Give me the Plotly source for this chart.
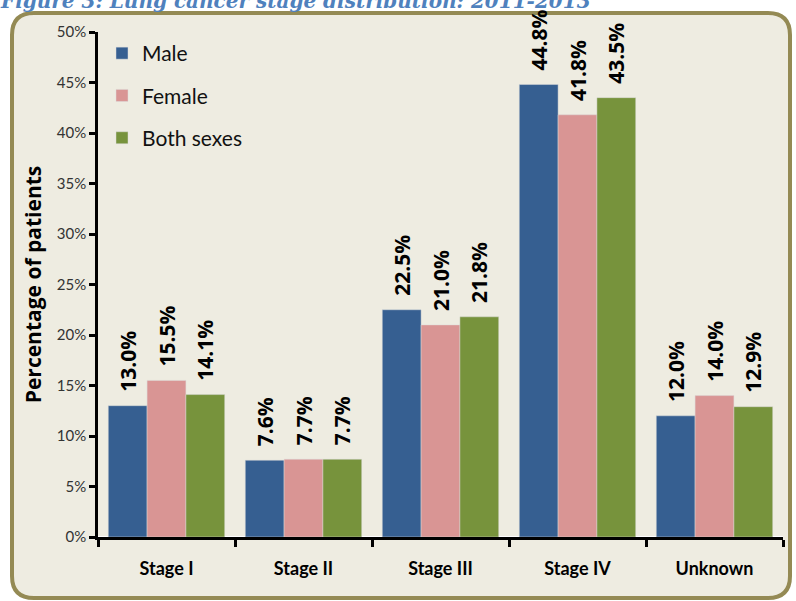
import plotly.graph_objects as go

categories = ["Stage I", "Stage II", "Stage III", "Stage IV", "Unknown"]
male = [13.0, 7.6, 22.5, 44.8, 12.0]
female = [15.5, 7.7, 21.0, 41.8, 14.0]
both = [14.1, 7.7, 21.8, 43.5, 12.9]
series_names = ["Male", "Female", "Both sexes"]
series_colors = ["#365F91", "#D99594", "#77933C"]
y_ticks = [0, 5, 10, 15, 20, 25, 30, 35, 40, 45, 50]

W, H = 796, 601
ml, mr, mt, mb = 98, 13, 32, 64
pw, ph = W - ml - mr, H - mt - mb

fig = go.Figure()
for name, vals, col in zip(series_names, [male, female, both], series_colors):
    fig.add_trace(go.Bar(
        x=categories, y=vals, name=name, legendgroup=name,
        marker=dict(color=col, line=dict(color="rgba(220,220,220,0.8)", width=0.6)),
        text=["\u00a0\u00a0" + f"{v:.1f}%" for v in vals],
        textposition="outside", textangle=-90, constraintext="none",
        textfont=dict(family="Open Sans", size=21, color="black", weight="bold"),
        cliponaxis=False,
    ))

def px_to_paper_x(px):
    return (px - ml) / pw

def px_to_paper_y(py):
    return (H - mb - py) / ph

x0, x1 = px_to_paper_x(12), px_to_paper_x(790)
y0, y1 = px_to_paper_y(598), px_to_paper_y(13)
rx, ry = 22 / pw, 22 / ph
path = (f"M {x0+rx},{y1} L {x1-rx},{y1} Q {x1},{y1} {x1},{y1-ry} "
        f"L {x1},{y0+ry} Q {x1},{y0} {x1-rx},{y0} L {x0+rx},{y0} "
        f"Q {x0},{y0} {x0},{y0+ry} L {x0},{y1-ry} Q {x0},{y1} {x0+rx},{y1} Z")
fig.add_shape(type="path", path=path, xref="paper", yref="paper",
              fillcolor="#EEECE1", line=dict(color="#948A54", width=4), layer="below")

fig.add_annotation(text="<b><i>Figure 3: Lung cancer stage distribution: 2011-2013</i></b>",
                   xref="paper", yref="paper", x=px_to_paper_x(-2), y=px_to_paper_y(15),
                   xanchor="left", yanchor="bottom", showarrow=False,
                   font=dict(family="DejaVu Serif", size=20, color="#4F81BD"))

fig.update_layout(
    width=W, height=H,
    margin=dict(l=ml, r=mr, t=mt, b=mb),
    paper_bgcolor="white", plot_bgcolor="rgba(0,0,0,0)",
    barmode="group", bargap=0.15, bargroupgap=0,
    font=dict(family="Lato", color="#222"),
    legend=dict(x=px_to_paper_x(102), y=px_to_paper_y(33), xanchor="left", yanchor="top",
                bgcolor="rgba(0,0,0,0)", font=dict(size=21, color="#111"),
                tracegroupgap=12, itemwidth=30),
    showlegend=True,
)
fig.update_xaxes(showline=True, linecolor="black", linewidth=2.5, ticks="outside",
                 tickson="boundaries", ticklen=7, tickwidth=2.5, tickcolor="black",
                 ticklabelstandoff=14,
                 tickfont=dict(family="Lato", size=18, color="black", weight="bold"), showgrid=False)
fig.update_yaxes(range=[0, 50], tickvals=y_ticks, ticktext=[f"{t}%" for t in y_ticks],
                 showline=True, linecolor="black", linewidth=2.5, ticks="outside",
                 ticklen=6, tickwidth=2.5, tickcolor="black", showgrid=False,
                 tickfont=dict(family="Lato", size=15, color="#333"),
                 title=dict(text="<b>Percentage of patients</b>",
                            font=dict(family="Open Sans", size=21, color="black"), standoff=10))

fig.write_html("out.html")
